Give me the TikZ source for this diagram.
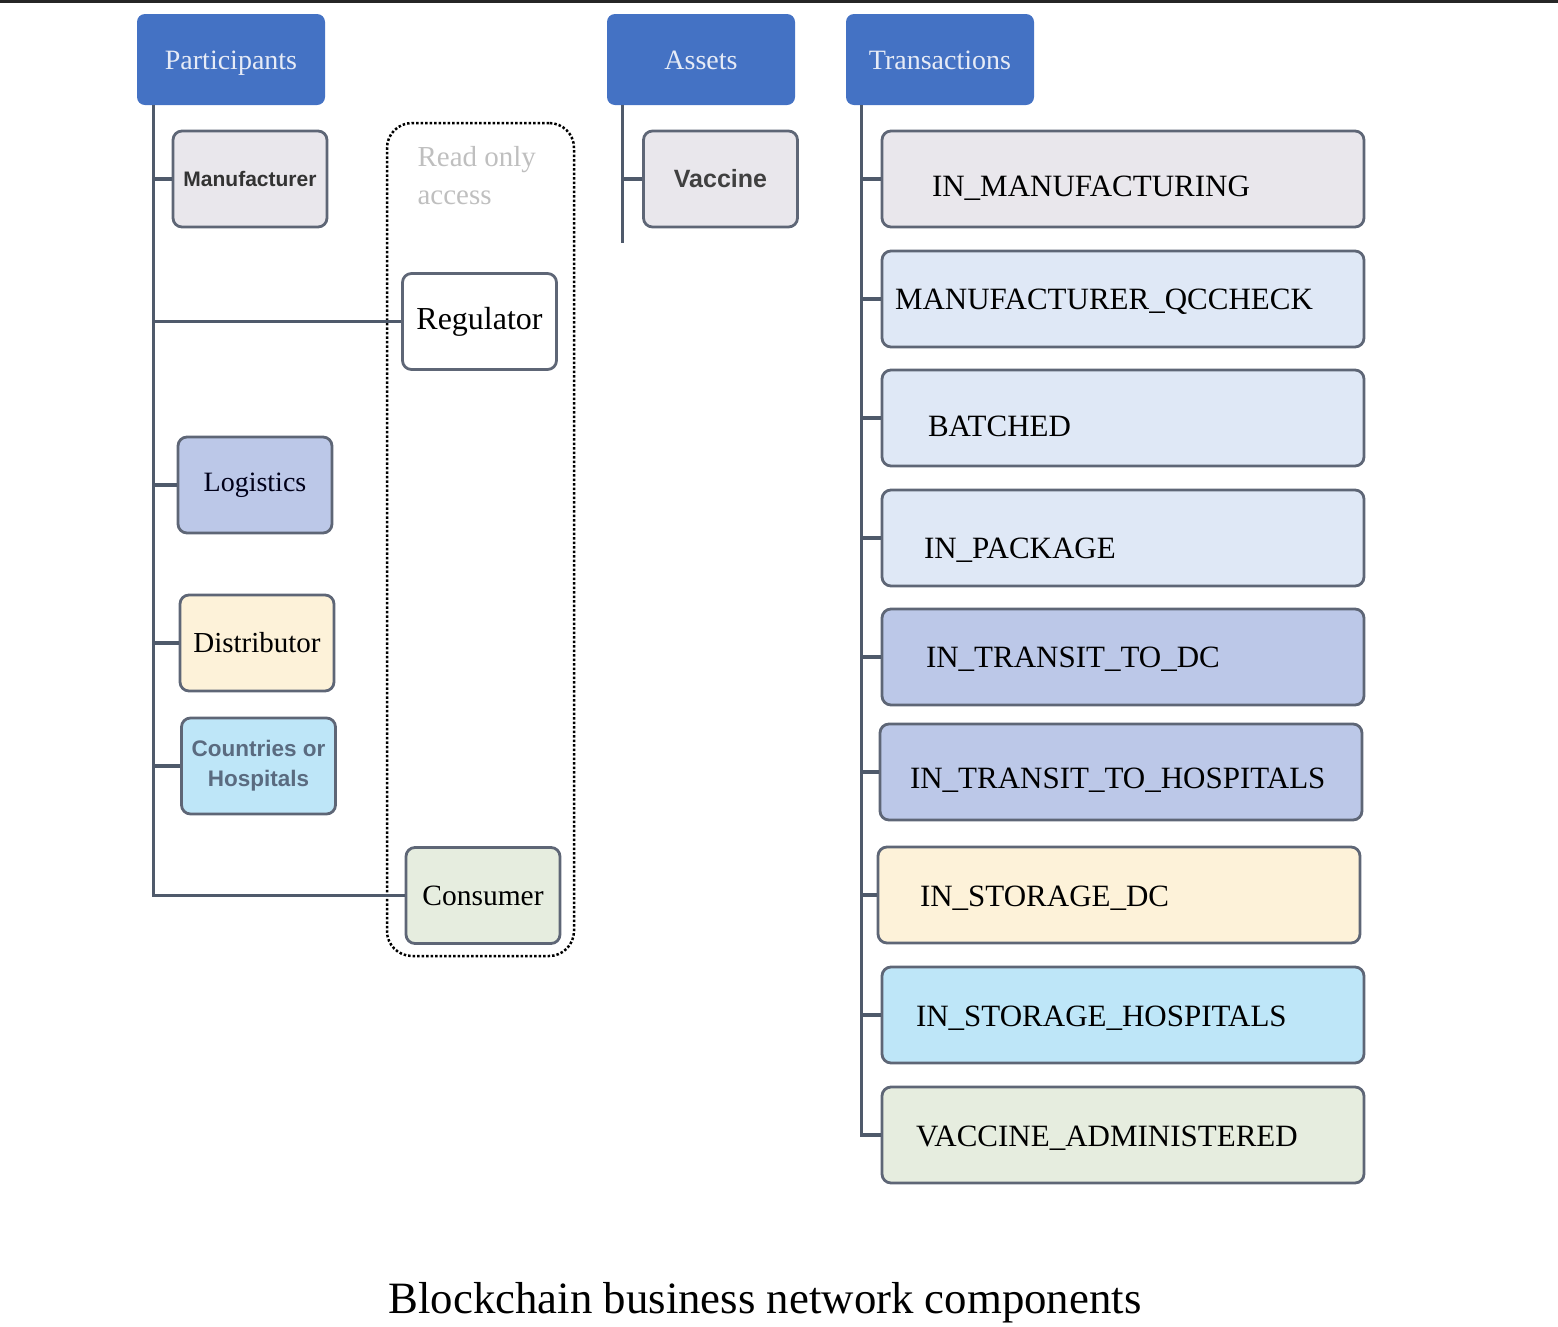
\documentclass[tikz,border=0pt]{standalone}
\usepackage{fontspec}
\setmainfont{Liberation Serif}
\setsansfont{Liberation Sans}
\usetikzlibrary{positioning}

\definecolor{hdrblue}{HTML}{4472C4}
\definecolor{hdrtext}{HTML}{E6EBF6}
\definecolor{cardline}{HTML}{5E6676}
\definecolor{linkgray}{HTML}{4F5A6B}
\definecolor{boxgray}{HTML}{E9E7EC}
\definecolor{paleblue}{HTML}{DFE8F6}
\definecolor{midblue}{HTML}{BCC8E8}
\definecolor{cream}{HTML}{FDF2D9}
\definecolor{sky}{HTML}{BEE6F8}
\definecolor{sage}{HTML}{E6EDDF}
\definecolor{slate}{HTML}{5A6B80}

\begin{document}
\begin{tikzpicture}[x=1pt, y=-1pt,
  header/.style = {fill=hdrblue, rounded corners=8pt, minimum width=188pt,
    minimum height=91pt, text=hdrtext, font=\fontsize{28}{32}\selectfont,
    text height=26pt, text depth=6pt},
  card/.style = {draw=cardline, line width=2.8pt, rounded corners=9pt,
    minimum width=154pt, minimum height=96pt, inner sep=2pt, align=center},
  state/.style = {card, font=\fontsize{31}{34}\selectfont, align=left, text depth=0pt},
  link/.style = {draw=linkgray, line width=3.2pt}]
\useasboundingbox (0,0) rectangle (1558,1326);
\fill[black!85] (0,0) rectangle (1558,2.5); % rule on top

% the three headers
\node[header] (part) at (231,59.5) {Participants};
\node[header] (asset) at (701,59.5) {Assets};
\node[header] (trans) at (940,59.5) {Transactions};

% participants
\node[draw, dash pattern=on 2.5pt off 2pt, line width=2.5pt, rounded corners=25pt,
  minimum width=187pt, minimum height=833pt] (rozone) at (480.5,539.5) {};
\node[anchor=north west, align=left, text=black!25, font=\fontsize{29}{38}\selectfont]
  (rotext) at (414,143) {Read only\\access};
\node[card, fill=boxgray, text=black!80, font=\sffamily\bfseries\fontsize{21}{24}\selectfont]
  (manu) at (250,179) {Manufacturer};
\node[card, fill=white, font=\fontsize{32}{36}\selectfont] (reg) at (479.5,321.5) {Regulator};
\node[card, fill=midblue, text=black!90!blue, font=\fontsize{28}{32}\selectfont]
  (logi) at (255,485) {Logistics};
\node[card, fill=cream, font=\fontsize{29}{32}\selectfont] (dist) at (257,643) {Distributor};
\node[card, fill=sky, text=slate, font=\sffamily\bfseries\fontsize{22.5}{30}\selectfont]
  (ctry) at (258.5,766) {Countries or\\Hospitals};
\node[card, fill=sage, font=\fontsize{29.5}{32}\selectfont] (cons) at (483,895.5) {Consumer};

\draw[link] (part.south west) ++(17,0) coordinate (ptrunk) |- (cons.west);
\foreach \n in {manu,reg,logi,dist,ctry}
  \draw[link] (ptrunk |- \n.west) -- (\n.west);

% assets
\node[card, fill=boxgray, text=black!75, font=\sffamily\bfseries\fontsize{25}{28}\selectfont]
  (vacc) at (720.5,179) {Vaccine};
\draw[link] (asset.south west) ++(16,0) coordinate (atrunk) -- ([yshift=-15pt]atrunk |- vacc.south);
\draw[link] (atrunk |- vacc.west) -- (vacc.west);

% transactions
\draw[link] (trans.south west) ++(16,0) coordinate (ttrunk) -- ++(0,1);
\foreach \x/\y/\col/\off/\dy/\txt [count=\i] in {
  1123/179/boxgray/50/7/IN\_MANUFACTURING,
  1123/299/paleblue/13/0/MANUFACTURER\_QCCHECK,
  1123/418/paleblue/46/8/BATCHED,
  1123/538/paleblue/42/10/IN\_PACKAGE,
  1123/657/midblue/44/0/IN\_TRANSIT\_TO\_DC,
  1121/772/midblue/30/6/IN\_TRANSIT\_TO\_HOSPITALS,
  1119/895/cream/42/1/IN\_STORAGE\_DC,
  1123/1015/sky/34/1/IN\_STORAGE\_HOSPITALS,
  1123/1135/sage/34/1/VACCINE\_ADMINISTERED}{
  \pgfmathsetmacro\tw{482-2*\off}
  \pgfmathsetmacro\th{20.5+2*\dy}
  \node[state, fill=\col, inner xsep=\off pt, text width=\tw pt, text height=\th pt]
    (t\i) at (\x,\y) {\txt};
  \draw[link] (ttrunk |- t\i.west) -- (t\i.west);
}
\draw[link] (ttrunk) |- (t9.west);

\node[font=\fontsize{44.8}{50}\selectfont] (caption) at (765,1303) {Blockchain business network components};
\end{tikzpicture}
\end{document}
